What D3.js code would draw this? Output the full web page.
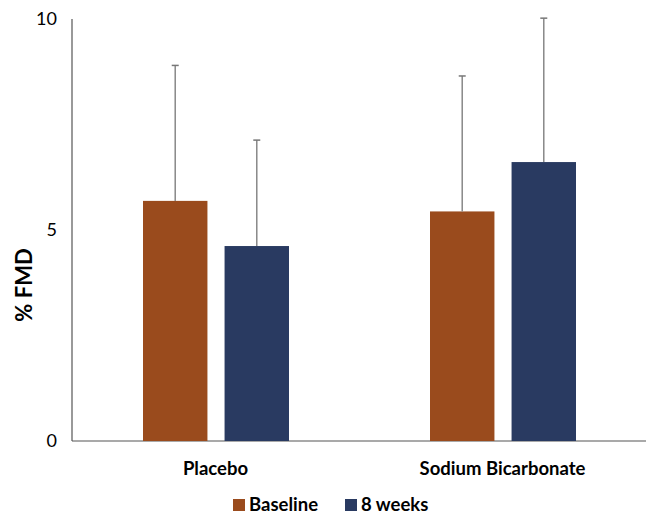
<!DOCTYPE html>
<html>
<head>
<meta charset="utf-8">
<script src="https://cdn.jsdelivr.net/npm/d3@7"></script>
<style>
  body { margin: 0; background: #fff; }
  text { font-family: Lato, "Open Sans", sans-serif; fill: #000; }
</style>
</head>
<body>
<svg id="chart"></svg>
<script>
// data
const categories = ['Placebo', 'Sodium Bicarbonate'];
const series = ['Baseline', '8 weeks'];
const means = [[5.69, 4.62], [5.44, 6.61]];
const errorTops = [[8.90, 7.13], [8.65, 10.02]];
const yTicks = [0, 5, 10];
const colors = ['#9a4b1d', '#293a61'];

const width = 649;
const height = 515;
const margin = { top: 19, right: 3, bottom: 74, left: 72 };

const svg = d3.select('#chart')
  .attr('width', width)
  .attr('height', height);

const y = d3.scaleLinear()
  .domain([0, 10])
  .range([height - margin.bottom, margin.top]);

const x0 = d3.scaleBand()
  .domain(categories)
  .range([margin.left, width - margin.right]);

const x1 = d3.scaleBand()
  .domain(series)
  .range([71, 217])
  .paddingInner(0.21);

// axis lines
svg.append('line')
  .attr('x1', margin.left).attr('x2', margin.left)
  .attr('y1', y(10)).attr('y2', y(0))
  .attr('stroke', '#555').attr('stroke-width', 1.2);

svg.append('line')
  .attr('x1', margin.left).attr('x2', width - margin.right)
  .attr('y1', y(0)).attr('y2', y(0))
  .attr('stroke', '#555').attr('stroke-width', 1.2);

svg.selectAll('.ytick')
  .data(yTicks)
  .join('text')
  .attr('class', 'ytick')
  .attr('x', 57)
  .attr('y', (d) => y(d))
  .attr('dy', '0.35em')
  .attr('text-anchor', 'end')
  .attr('font-size', 18)
  .text((d) => d);

svg.append('text')
  .attr('transform', 'translate(32, 285) rotate(-90)')
  .attr('text-anchor', 'middle')
  .attr('font-size', 22)
  .attr('font-weight', 'bold')
  .text('% FMD');

// bars
const rows = [];
categories.forEach((c, i) => {
  series.forEach((s, j) => {
    rows.push({ cat: c, ser: s, j, mean: means[i][j], top: errorTops[i][j] });
  });
});

const groups = svg.append('g');

groups.selectAll('rect')
  .data(rows)
  .join('rect')
  .attr('x', (d) => x0(d.cat) + x1(d.ser))
  .attr('y', (d) => y(d.mean))
  .attr('width', x1.bandwidth())
  .attr('height', (d) => y(0) - y(d.mean))
  .attr('fill', (d) => colors[d.j]);

// error bars (upper only)
const cx = (d) => x0(d.cat) + x1(d.ser) + x1.bandwidth() / 2;

groups.selectAll('.err')
  .data(rows)
  .join('line')
  .attr('class', 'err')
  .attr('x1', cx).attr('x2', cx)
  .attr('y1', (d) => y(d.mean))
  .attr('y2', (d) => y(d.top))
  .attr('stroke', '#888').attr('stroke-width', 1.5);

groups.selectAll('.cap')
  .data(rows)
  .join('line')
  .attr('class', 'cap')
  .attr('x1', (d) => cx(d) - 3.5).attr('x2', (d) => cx(d) + 3.5)
  .attr('y1', (d) => y(d.top))
  .attr('y2', (d) => y(d.top))
  .attr('stroke', '#777').attr('stroke-width', 1.5);

// category labels
svg.selectAll('.cat')
  .data(categories)
  .join('text')
  .attr('class', 'cat')
  .attr('x', (d) => x0(d) + x0.bandwidth() / 2)
  .attr('y', 469)
  .attr('dy', '0.35em')
  .attr('text-anchor', 'middle')
  .attr('font-size', 18.5)
  .attr('font-weight', 'bold')
  .text((d) => d);

// legend
const legendX = [233, 345];
const legend = svg.selectAll('.leg')
  .data(series)
  .join('g')
  .attr('class', 'leg')
  .attr('transform', (d, i) => `translate(${legendX[i]}, 505)`);

legend.append('rect')
  .attr('x', 0).attr('y', -6)
  .attr('width', 12).attr('height', 12)
  .attr('fill', (d, i) => colors[i]);

legend.append('text')
  .attr('x', 16)
  .attr('dy', '0.35em')
  .attr('font-size', 18.5)
  .attr('font-weight', 'bold')
  .text((d) => d);
</script>
</body>
</html>
